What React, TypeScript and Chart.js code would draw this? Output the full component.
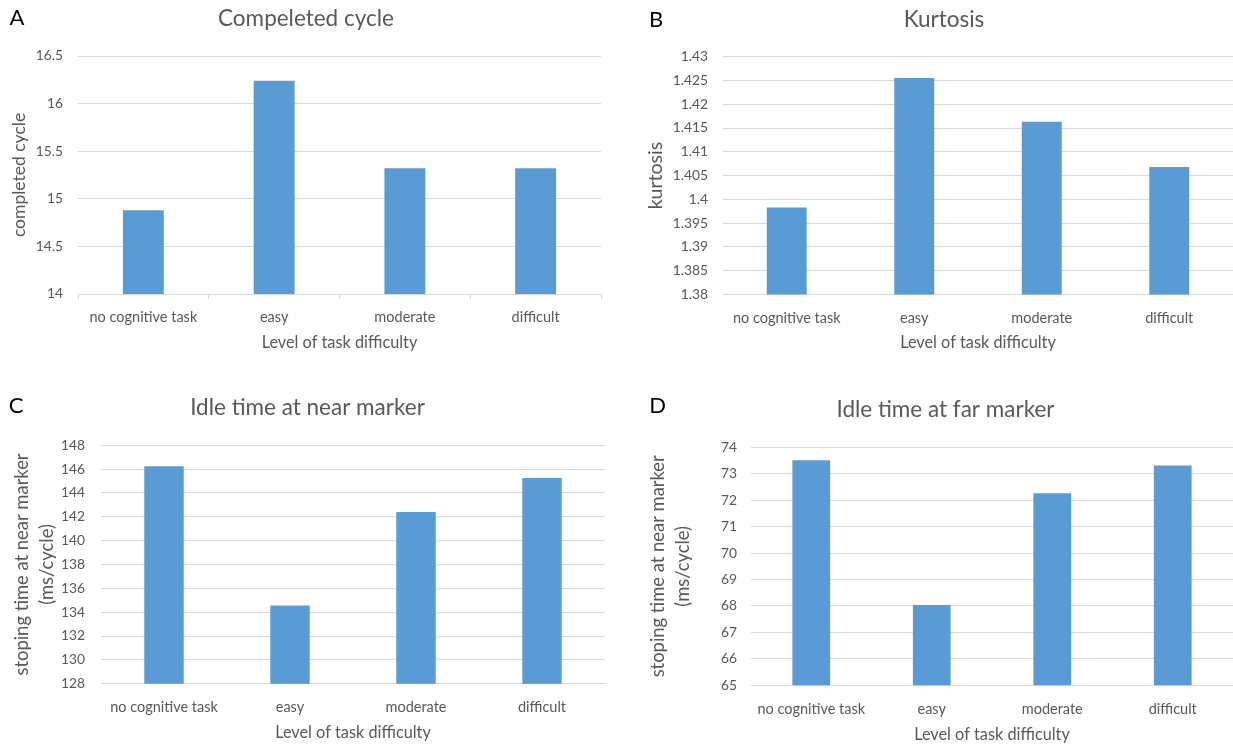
import React, { useEffect, useRef } from 'react';
import { Chart, registerables } from 'chart.js';

Chart.register(...registerables);

const FONT = 'Lato, "DejaVu Sans", sans-serif';
const TEXT = '#595959';
const GRID = '#D9D9D9';
const BAR = '#5B9BD5';

// ---- data ----
const categories = ['no cognitive task', 'easy', 'moderate', 'difficult'];
const xAxisTitle = 'Level of task difficulty';

const completedCycle = [14.88, 16.24, 15.32, 15.32];
const kurtosisValues = [1.3983, 1.4255, 1.4163, 1.4068];
const idleNearValues = [146.24, 134.55, 142.41, 145.26];
const idleFarValues = [73.51, 68.04, 72.26, 73.31];

const ticksCompleted = ['14', '14.5', '15', '15.5', '16', '16.5'];
const ticksKurtosis = ['1.38', '1.385', '1.39', '1.395', '1.4', '1.405', '1.41', '1.415', '1.42', '1.425', '1.43'];
const ticksNear = ['128', '130', '132', '134', '136', '138', '140', '142', '144', '146', '148'];
const ticksFar = ['65', '66', '67', '68', '69', '70', '71', '72', '73', '74'];

const titles = ['Compeleted cycle', 'Kurtosis', 'Idle time at near marker', 'Idle time at far marker'];
const letters = ['A', 'B', 'C', 'D'];
const yTitles: (string | string[])[] = [
  'completed cycle',
  'kurtosis',
  ['stoping time at near marker', '(ms/cycle)'],
  ['stoping time at near marker', '(ms/cycle)'],
];

// ---- layout (canvas-local coordinates) ----
const panels = [
  {
    values: completedCycle, ticks: ticksCompleted, title: titles[0], letter: letters[0], yTitle: yTitles[0],
    box: { left: 0, top: 0, width: 620, height: 370 },
    area: { left: 78, right: 601, top: 56, bottom: 294 },
    tickMarks: true, xTickPad: 9.5, xTitlePad: 17.2,
    yTickPad: 15, yTitleSize: 17.5, yTitleLH: 1.2, yTitlePad: 9,
    letterPos: [17, 25], titlePos: [306, 26],
  },
  {
    values: kurtosisValues, ticks: ticksKurtosis, title: titles[1], letter: letters[1], yTitle: yTitles[1],
    box: { left: 620, top: 0, width: 613, height: 370 },
    area: { left: 103, right: 613, top: 56.7, bottom: 294.5 },
    tickMarks: false, xTickPad: 7.5, xTitlePad: 17.2,
    yTickPad: 15, yTitleSize: 19.5, yTitleLH: 1.2, yTitlePad: 24.3,
    letterPos: [36, 26.7], titlePos: [324, 26.7],
  },
  {
    values: idleNearValues, ticks: ticksNear, title: titles[2], letter: letters[2], yTitle: yTitles[2],
    box: { left: 0, top: 380, width: 620, height: 367 },
    area: { left: 101, right: 605, top: 65.3, bottom: 303.7 },
    tickMarks: false, xTickPad: 7.3, xTitlePad: 4.2,
    yTickPad: 16, yTitleSize: 18.4, yTitleLH: '24.6px', yTitlePad: 9.7,
    letterPos: [16, 33], titlePos: [307.5, 35],
  },
  {
    values: idleFarValues, ticks: ticksFar, title: titles[3], letter: letters[3], yTitle: yTitles[3],
    box: { left: 620, top: 380, width: 613, height: 367 },
    area: { left: 131, right: 613, top: 67.3, bottom: 305.3 },
    tickMarks: false, xTickPad: 7.7, xTitlePad: 2.2,
    yTickPad: 14, yTitleSize: 18.4, yTitleLH: '24.6px', yTitlePad: 25.7,
    letterPos: [37.5, 33.3], titlePos: [325.5, 37.3],
  },
];

const panelTextPlugin = {
  id: 'panelText',
  afterDraw(chart: any, _args: any, opts: any) {
    const ctx = chart.ctx;
    ctx.save();
    for (const it of opts.items || []) {
      ctx.font = `${it.size}px ${FONT}`;
      ctx.fillStyle = it.color;
      ctx.textAlign = it.align;
      ctx.textBaseline = 'alphabetic';
      ctx.fillText(it.text, it.x, it.y);
    }
    ctx.restore();
  },
};

function buildConfig(p: any): any {
  const tickVals = p.ticks.map((t: string) => Number(t));
  return {
    type: 'bar',
    data: {
      labels: categories,
      datasets: [
        {
          data: p.values,
          backgroundColor: BAR,
          borderWidth: 0,
          barPercentage: 0.313,
          categoryPercentage: 1,
        },
      ],
    },
    options: {
      animation: false,
      responsive: false,
      maintainAspectRatio: false,
      devicePixelRatio: 1,
      layout: {
        padding: { top: p.area.top, left: 0, right: p.box.width - p.area.right, bottom: 0 },
      },
      plugins: {
        legend: { display: false },
        tooltip: { enabled: false },
        title: { display: false },
        panelText: {
          items: [
            { text: p.letter, x: p.letterPos[0], y: p.letterPos[1], size: 22, color: '#000000', align: 'center' },
            { text: p.title, x: p.titlePos[0], y: p.titlePos[1], size: 22.5, color: TEXT, align: 'center' },
          ],
        },
      },
      scales: {
        x: {
          grid: p.tickMarks
            ? { display: true, drawOnChartArea: false, drawTicks: true, tickLength: 5, color: GRID, offset: true }
            : { display: false },
          border: { display: true, color: GRID, width: 1 },
          ticks: {
            color: TEXT,
            font: { family: FONT, size: 14.5 },
            padding: p.xTickPad,
            maxRotation: 0,
            autoSkip: false,
          },
          title: {
            display: true,
            text: xAxisTitle,
            color: TEXT,
            font: { family: FONT, size: 16.3 },
            padding: { top: 0, bottom: p.xTitlePad },
          },
          afterFit: (s: any) => {
            s.height = p.box.height - p.area.bottom;
          },
        },
        y: {
          min: tickVals[0],
          max: tickVals[tickVals.length - 1],
          beginAtZero: false,
          grid: { color: GRID, drawTicks: false, lineWidth: 1 },
          border: { display: false },
          afterBuildTicks: (s: any) => {
            s.ticks = tickVals.map((v: number) => ({ value: v }));
          },
          ticks: {
            color: TEXT,
            font: { family: FONT, size: 13.8 },
            padding: p.yTickPad,
            callback: (_v: any, i: number) => p.ticks[i],
          },
          title: {
            display: true,
            text: p.yTitle,
            color: TEXT,
            font: { family: FONT, size: p.yTitleSize, lineHeight: p.yTitleLH },
            padding: { top: p.yTitlePad, bottom: 0 },
          },
          afterFit: (s: any) => {
            s.width = p.area.left;
          },
        },
      },
    },
    plugins: [panelTextPlugin],
  };
}

function Panel({ p }: { p: any }) {
  const ref = useRef<HTMLCanvasElement>(null);
  useEffect(() => {
    const chart = new Chart(ref.current as HTMLCanvasElement, buildConfig(p));
    return () => chart.destroy();
  }, []);
  return (
    <canvas
      ref={ref}
      width={p.box.width}
      height={p.box.height}
      style={{
        position: 'absolute',
        left: p.box.left,
        top: p.box.top,
        width: p.box.width,
        height: p.box.height,
      }}
    />
  );
}

export default function App() {
  return (
    <div
      style={{
        position: 'absolute',
        left: 0,
        top: 0,
        width: 1233,
        height: 747,
        background: '#ffffff',
        overflow: 'hidden',
      }}
    >
      {panels.map((p, i) => (
        <Panel key={i} p={p} />
      ))}
    </div>
  );
}
